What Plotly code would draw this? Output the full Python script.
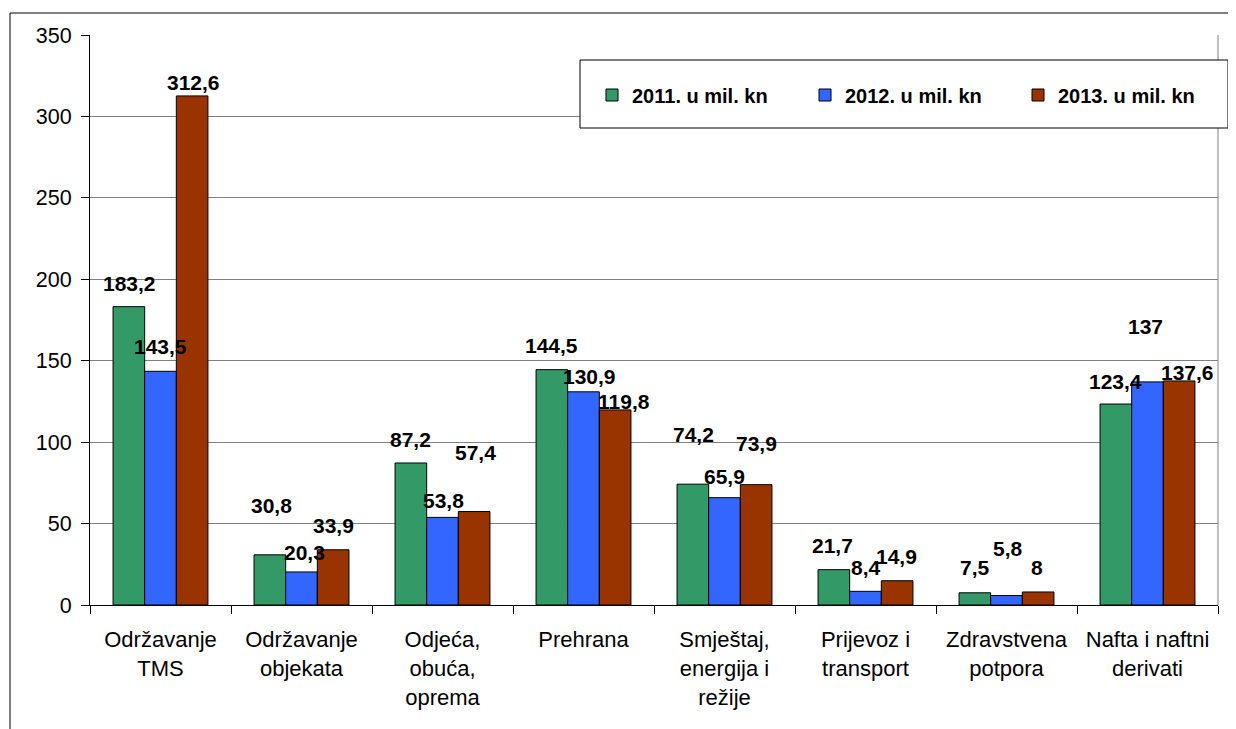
import plotly.graph_objects as go

categories = ["Održavanje<br>TMS", "Održavanje<br>objekata", "Odjeća,<br>obuća,<br>oprema",
              "Prehrana", "Smještaj,<br>energija i<br>režije", "Prijevoz i<br>transport",
              "Zdravstvena<br>potpora", "Nafta i naftni<br>derivati"]

series_names = ["2011. u mil. kn", "2012. u mil. kn", "2013. u mil. kn"]
values_2011 = [183.2, 30.8, 87.2, 144.5, 74.2, 21.7, 7.5, 123.4]
values_2012 = [143.5, 20.3, 53.8, 130.9, 65.9, 8.4, 5.8, 137]
values_2013 = [312.6, 33.9, 57.4, 119.8, 73.9, 14.9, 8, 137.6]

# data-label placement (label centre height in axis units, horizontal nudge in px)
label_y_2011 = [197.7, 61.4, 101.6, 159.3, 104.7, 36.5, 23.0, 137.5]
label_y_2012 = [158.6, 32.2, 64.2, 140.3, 78.6, 23.3, 34.4, 171.0]
label_y_2013 = [320.7, 48.6, 93.6, 124.8, 99.2, 30.0, 23.3, 142.8]
label_dx_2011 = [1, 2, 0, 0, 1, -1, 0, 0]
label_dx_2012 = [0, 2.5, 1, 6, 0, 0, 1, -2]
label_dx_2013 = [1, 0, 1, 9, 0, -1, -1, 8]

colors = ["#339966", "#3366FF", "#993300"]
legend_widths = [168, 168, 145]

# page body has an 8px margin, so the figure is drawn at (8, 8)
OFF = 8
W, H = 1236 - OFF, 729 - OFF
ML, MR, MT, MB = 90 - OFF, 18, 35 - OFF, 124
BARGAP = 0.327
FONT = "Liberation Sans, Arial, sans-serif"

all_values = [values_2011, values_2012, values_2013]
all_label_y = [label_y_2011, label_y_2012, label_y_2013]
all_label_dx = [label_dx_2011, label_dx_2012, label_dx_2013]

fig = go.Figure()
for name, vals, col, lw in zip(series_names, all_values, colors, legend_widths):
    fig.add_trace(go.Bar(
        x=categories, y=vals, name=name,
        marker=dict(color=col, line=dict(color="black", width=1)),
        hoverinfo="x+y", legendwidth=lw,
    ))


def fmt(v):
    return f"{v:g}".replace(".", ",")


bar_frac = (1 - BARGAP) / 3
annotations = []
for s, (vals, ly, ldx) in enumerate(zip(all_values, all_label_y, all_label_dx)):
    for i, (v, yy, dx) in enumerate(zip(vals, ly, ldx)):
        annotations.append(dict(
            x=i + (s - 1) * bar_frac, y=yy, xref="x", yref="y",
            text=fmt(v), showarrow=False, xshift=dx,
            xanchor="center", yanchor="middle",
            font=dict(family=FONT, size=21, color="black", weight="bold"),
        ))

plot_w = W - ML - MR
plot_h = H - MT - MB


def px_x(p):
    # p: screen pixel x
    return (p - OFF - ML) / plot_w


def px_y(p):
    # p: screen pixel y
    return (H - MB - (p - OFF)) / plot_h


shapes = [
    # outer chart border (left and top visible)
    dict(type="rect", xref="paper", yref="paper",
         x0=px_x(10), x1=px_x(1236 + 20), y0=px_y(729 + 20), y1=px_y(13),
         line=dict(color="black", width=1), fillcolor="rgba(0,0,0,0)", layer="above"),
    # right edge of plot area
    dict(type="line", xref="paper", yref="paper", x0=1, x1=1, y0=0, y1=1,
         line=dict(color="#808080", width=1), layer="below"),
    # legend box
    dict(type="rect", xref="paper", yref="paper",
         x0=px_x(580), x1=px_x(1228), y0=px_y(128), y1=px_y(60),
         line=dict(color="black", width=1), fillcolor="white", layer="above"),
]

fig.update_layout(
    width=W, height=H,
    margin=dict(l=ML, r=MR, t=MT, b=MB, pad=0, autoexpand=False),
    paper_bgcolor="white", plot_bgcolor="white",
    barmode="group", bargap=BARGAP, bargroupgap=0,
    font=dict(family=FONT, color="black"),
    showlegend=True,
    legend=dict(
        orientation="h", x=px_x(592), xanchor="left", y=px_y(95), yanchor="middle",
        bgcolor="rgba(0,0,0,0)", borderwidth=0,
        font=dict(family=FONT, size=20, color="black", weight="bold"),
        entrywidthmode="pixels", itemwidth=30,
        traceorder="normal",
    ),
    annotations=annotations,
    shapes=shapes,
    xaxis=dict(
        type="category", showline=True, linecolor="black", linewidth=1,
        ticks="outside", tickson="boundaries", ticklen=8, tickcolor="black", tickwidth=1,
        tickfont=dict(family=FONT, size=22, color="black"),
        ticklabelstandoff=15,
        showgrid=False, zeroline=False, automargin=False,
    ),
    yaxis=dict(
        range=[0, 350], dtick=50, tick0=0,
        showline=True, linecolor="black", linewidth=1,
        ticks="outside", ticklen=8, tickcolor="black", tickwidth=1,
        tickfont=dict(family=FONT, size=21.5, color="black"),
        ticklabelstandoff=5,
        showgrid=True, gridcolor="#808080", gridwidth=1,
        zeroline=False, automargin=False,
    ),
)

fig.write_html("out.html")
